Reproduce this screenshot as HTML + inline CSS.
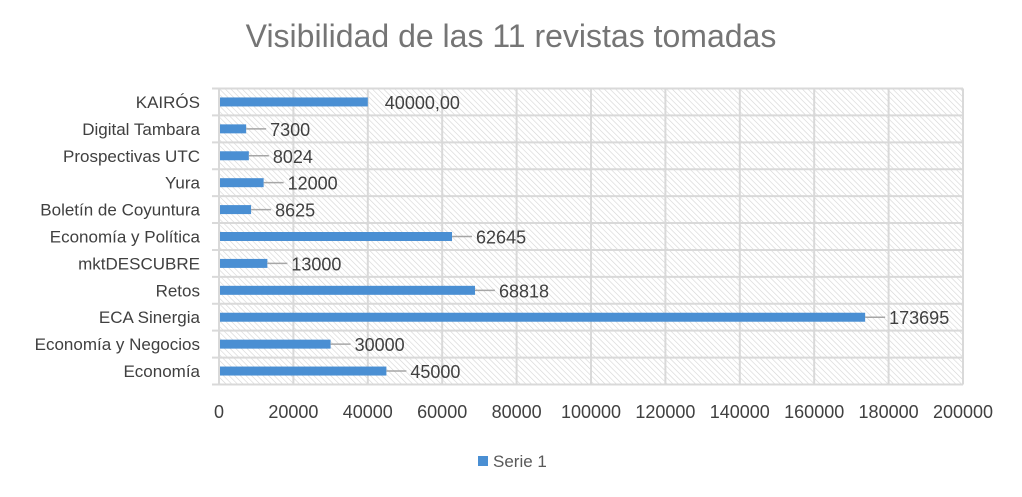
<!DOCTYPE html>
<html><head><meta charset="utf-8"><style>
body{margin:0;background:#fff;width:1022px;height:492px;overflow:hidden;font-family:"Liberation Sans",sans-serif}
</style></head><body>
<svg id="c" width="1022" height="492" xmlns="http://www.w3.org/2000/svg">
<defs><pattern id="h" width="4" height="4" patternUnits="userSpaceOnUse" patternTransform="rotate(-45)"><rect width="4" height="4" fill="#fff"/><line x1="0" y1="0" x2="0" y2="4" stroke="#d4d4d4" stroke-width="1.2"/></pattern></defs>
<text x="511" y="47" text-anchor="middle" font-size="32" fill="#757575">Visibilidad de las 11 revistas tomadas</text>
</svg>
<script>
const categories=["KAIRÓS","Digital Tambara","Prospectivas UTC","Yura","Boletín de Coyuntura","Economía y Política","mktDESCUBRE","Retos","ECA Sinergia","Economía y Negocios","Economía"];
const values=[40000,7300,8024,12000,8625,62645,13000,68818,173695,30000,45000];
const labels=["40000,00","7300","8024","12000","8625","62645","13000","68818","173695","30000","45000"];
const ticks=[0,20000,40000,60000,80000,100000,120000,140000,160000,180000,200000];
const svg=document.getElementById('c');const NS="http://www.w3.org/2000/svg";
const x0=219,x1=963,yTop=88.5,yBot=384.5,maxV=200000;
const X=v=>x0+(v/maxV)*(x1-x0);const bandH=(yBot-yTop)/categories.length;const Y=i=>yTop+bandH*(i+0.5);
function mk(t,a,p){const e=document.createElementNS(NS,t);for(const k in a)e.setAttribute(k,a[k]);(p||svg).appendChild(e);return e;}
const bg=mk('rect',{x:x0,y:yTop,width:x1-x0,height:yBot-yTop,fill:'url(#h)'});


for(let i=0;i<=categories.length;i++){const l=mk('line',{x1:212,x2:x1,y1:yTop+bandH*i,y2:yTop+bandH*i,stroke:'#d9d9d9','stroke-width':2});

}
ticks.forEach(t=>{const l=mk('line',{x1:X(t),x2:X(t),y1:yTop,y2:yBot,stroke:'#d9d9d9','stroke-width':2});


const tx=mk('text',{x:X(t),y:418,'text-anchor':'middle','font-size':18,fill:'#404040'});tx.textContent=t;

});
categories.forEach((c,i)=>{const y=Y(i);
const t=mk('text',{x:200,y:y+6,'text-anchor':'end','font-size':17,fill:'#404040'});t.textContent=c;


const b=mk('rect',{x:x0+1,y:y-4.5,width:X(values[i])-x0-1,height:9,fill:'#4a8fd3'});


const ex=X(values[i]);let lx=ex+17;
if(i>0){const ll=mk('line',{x1:ex,x2:ex+20,y1:y,y2:y,stroke:'#a6a6a6','stroke-width':1.5});

lx=ex+24;}
const v=mk('text',{x:lx,y:y+7,'font-size':18,fill:'#404040'});v.textContent=labels[i];

});
const lg=mk('rect',{x:478,y:456,width:10,height:10,fill:'#4a8fd3'});


const lt=mk('text',{x:493,y:467,'font-size':17,fill:'#595959'});lt.textContent='Serie 1';


</script>
</body></html>
